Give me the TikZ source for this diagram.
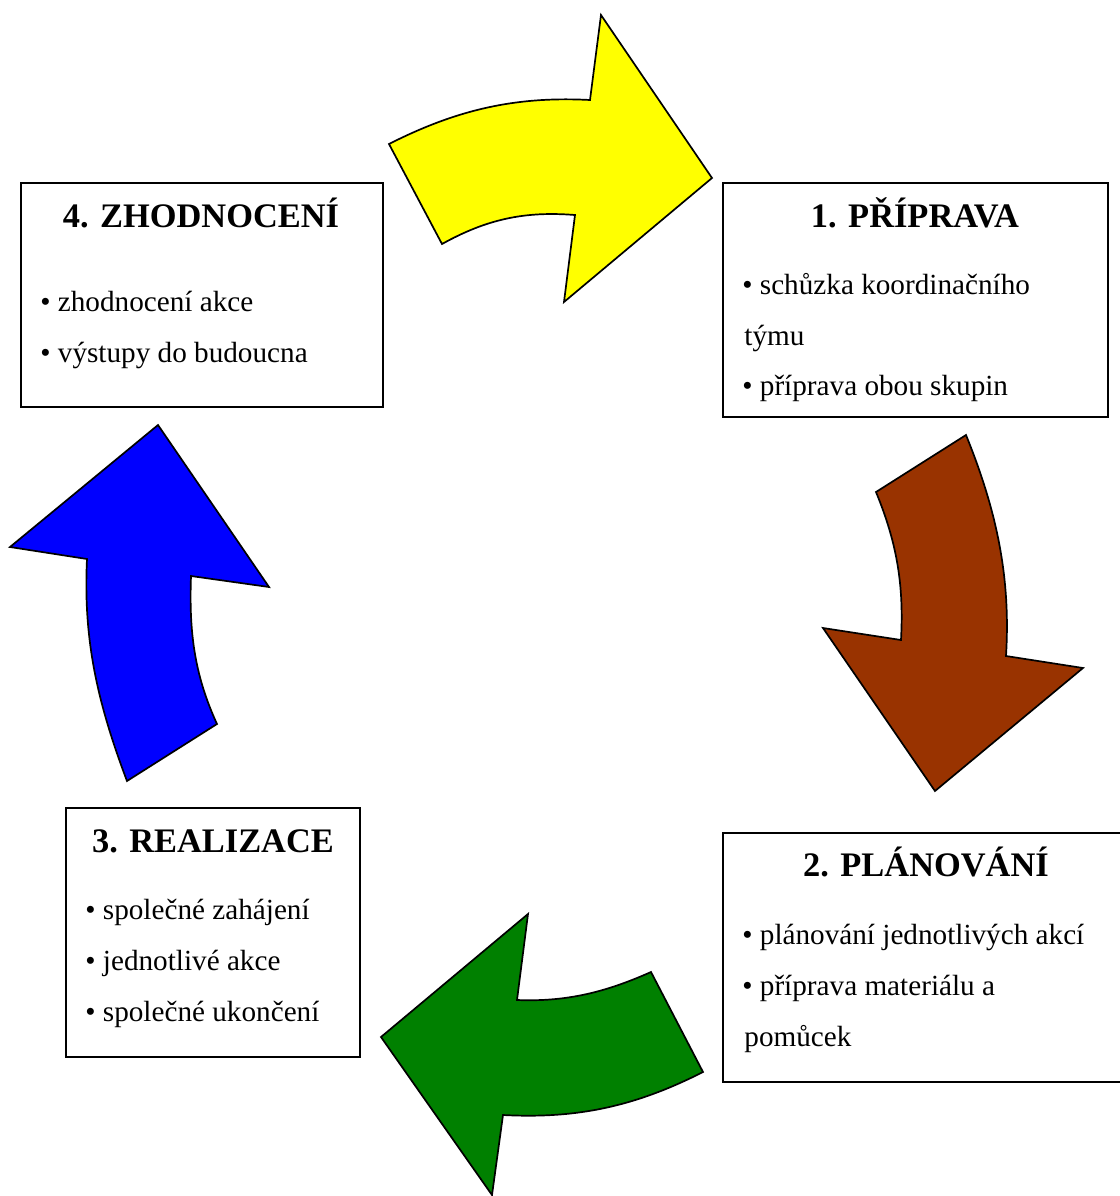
\documentclass[tikz,border=0pt]{standalone}
\usepackage{fontspec}
\setmainfont{Liberation Serif}
\definecolor{ayellow}{HTML}{FFFF00}
\definecolor{abrown}{HTML}{993300}
\definecolor{agreen}{HTML}{008000}
\definecolor{ablue}{HTML}{0000FF}
\tikzset{
  stagebox/.style={draw=black, line width=1pt, fill=white, anchor=north west, inner sep=0pt, outer sep=0pt},
  ttl/.style={anchor=base, inner sep=0pt, font=\fontsize{17.2}{20}\selectfont\bfseries},
  itm/.style={anchor=base west, inner sep=0pt, font=\fontsize{14.6}{17}\selectfont},
  bigarrow/.style={draw=black, line width=0.85pt, line join=miter}
}
\begin{document}
\begin{tikzpicture}[x=0.5pt, y=-0.5pt]
\useasboundingbox (0,0) rectangle (1120,1196);

% arrows
\path[bigarrow, fill=ayellow] (389,144) .. controls (456,110) and (515,96) .. (590,100) -- (601,15) -- (712,178) -- (564,302) -- (575,215) .. controls (525,211) and (487,219) .. (442,244) -- cycle;
\path[bigarrow, fill=abrown] (966,435) .. controls (996,509) and (1011,576) .. (1006,656) -- (1083,668) -- (935,791) -- (823,628) -- (901,640) .. controls (904,585) and (897,543) .. (876,492) -- cycle;
\path[bigarrow, fill=agreen] (651,972) -- (703,1072) .. controls (636,1106) and (578,1119) .. (503,1115) -- (492,1195) -- (381,1037) -- (528,914) -- (517,1000) .. controls (567,1002) and (606,992) .. (651,972) -- cycle;
\path[bigarrow, fill=ablue] (127,781) -- (217,724) .. controls (194,674) and (189,631) .. (191,576) -- (269,587) -- (158,425) -- (10,547) -- (87,559) .. controls (83,641) and (98,704) .. (127,781) -- cycle;

% boxes
\node[stagebox, minimum width=181pt, minimum height=112pt] (b4) at (21,183) {};
\node[stagebox, minimum width=192.5pt, minimum height=117pt] (b1) at (723,183) {};
\node[stagebox, minimum width=203.5pt, minimum height=124.5pt] (b2) at (723,833) {};
\node[stagebox, minimum width=147pt, minimum height=124.5pt] (b3) at (66,808) {};

% box 4
\node[ttl] (t4) at (201,227) {4. ZHODNOCENÍ};
\node[itm] (t4a) at (40,311) {• zhodnocení akce};
\node[itm] (t4b) at (40,362) {• výstupy do budoucna};

% box 1
\node[ttl] (t1) at (915,227) {1. PŘÍPRAVA};
\node[itm] (t1a) at (742,294) {• schůzka koordinačního};
\node[itm] (t1b) at (744,345) {týmu};
\node[itm] (t1c) at (742,395) {• příprava obou skupin};

% box 2
\node[ttl] (t2) at (926,876) {2. PLÁNOVÁNÍ};
\node[itm] (t2a) at (742,944) {• plánování jednotlivých akcí};
\node[itm] (t2b) at (742,995) {• příprava materiálu a};
\node[itm] (t2c) at (744,1046) {pomůcek};

% box 3
\node[ttl] (t3) at (213,852) {3. REALIZACE};
\node[itm] (t3a) at (85,919) {• společné zahájení};
\node[itm] (t3b) at (85,970) {• jednotlivé akce};
\node[itm] (t3c) at (85,1021) {• společné ukončení};
\end{tikzpicture}
\end{document}
